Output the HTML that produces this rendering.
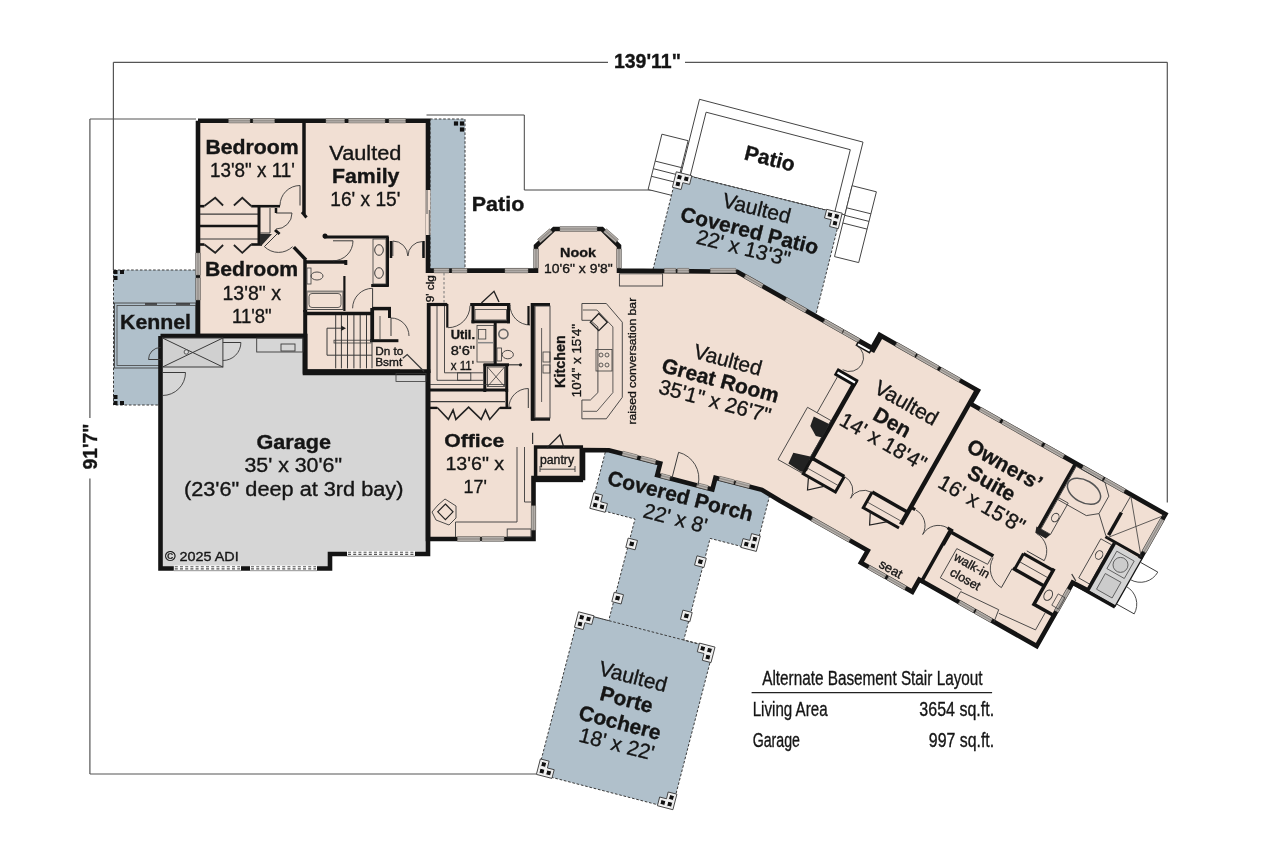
<!DOCTYPE html><html><head><meta charset="utf-8"><style>html,body{margin:0;padding:0;background:#fff;overflow:hidden}svg{display:block;will-change:transform}text{font-family:"Liberation Sans",sans-serif;fill:#151515;stroke:#151515;stroke-width:0.35px}</style></head><body>
<svg width="1280" height="853" viewBox="0 0 1280 853">
<rect width="1280" height="853" fill="#fff"/>
<line x1="113.4" y1="62.3" x2="608.0" y2="62.3" stroke="#555" stroke-width="1.2" />
<line x1="685.0" y1="62.3" x2="1167.3" y2="62.3" stroke="#555" stroke-width="1.2" />
<line x1="113.4" y1="62.3" x2="113.4" y2="270.0" stroke="#555" stroke-width="1.2" />
<line x1="1167.3" y1="62.3" x2="1167.3" y2="502.5" stroke="#555" stroke-width="1.2" />
<line x1="89.9" y1="119.0" x2="89.9" y2="418.0" stroke="#555" stroke-width="1.2" />
<line x1="89.9" y1="478.5" x2="89.9" y2="774.0" stroke="#555" stroke-width="1.2" />
<line x1="89.9" y1="119.0" x2="196.0" y2="119.0" stroke="#555" stroke-width="1.2" />
<line x1="89.9" y1="774.0" x2="536.0" y2="774.0" stroke="#555" stroke-width="1.2" />
<polyline points="426.5,115.0 524.3,115.0 524.3,190.0 663.0,190.0" fill="none" stroke="#444" stroke-width="1" />
<polygon points="699.5,99.3 863.0,142.1 844.9,214.9 680.9,174.0" fill="#fff" stroke="#444" stroke-width="1" />
<polygon points="706.1,112.2 850.3,149.7 834.7,212.3 690.1,176.3" fill="none" stroke="#444" stroke-width="1" />
<polygon points="661.9,134.2 688.1,140.7 674.3,196.0 648.1,189.5" fill="#fff" stroke="#444" stroke-width="1" />
<line x1="655.2" y1="161.1" x2="681.4" y2="167.6" stroke="#444" stroke-width="1" />
<line x1="653.3" y1="168.7" x2="679.5" y2="175.3" stroke="#444" stroke-width="1" />
<line x1="651.4" y1="176.3" x2="677.6" y2="182.8" stroke="#444" stroke-width="1" />
<polygon points="852.1,185.7 876.4,191.8 858.7,262.6 834.5,256.6" fill="#fff" stroke="#444" stroke-width="1" />
<line x1="846.6" y1="207.8" x2="870.9" y2="213.8" stroke="#444" stroke-width="1" />
<line x1="844.7" y1="215.3" x2="869.0" y2="221.4" stroke="#444" stroke-width="1" />
<line x1="842.8" y1="223.0" x2="867.1" y2="229.1" stroke="#444" stroke-width="1" />
<polygon points="677.0,173.0 841.0,213.9 815.6,315.8 651.6,274.9" fill="#b0c0cb" stroke="#3a3a3a" stroke-width="1.0" stroke-dasharray="2.6,1.8"/>
<polygon points="430.0,119.0 465.0,119.0 465.0,272.0 430.0,272.0" fill="#b0c0cb" stroke="#3a3a3a" stroke-width="1.0" stroke-dasharray="2.6,1.8"/>
<polygon points="113.5,270.0 198.0,270.0 198.0,405.0 113.5,405.0" fill="#b0c0cb" stroke="#3a3a3a" stroke-width="1.0" stroke-dasharray="2.6,1.8"/>
<polygon points="607.7,442.7 772.3,485.3 755.6,550.1 710.1,538.4 683.8,640.0 713.8,647.8 672.2,808.5 537.6,773.7 579.2,613.0 608.7,620.6 635.0,519.0 591.0,507.6" fill="#b0c0cb" stroke="#3a3a3a" stroke-width="1.0" stroke-dasharray="2.6,1.8"/>
<rect x="114.5" y="303.0" width="81.5" height="65.0" fill="none" stroke="#444" stroke-width="0.9"/>
<rect x="117.0" y="305.5" width="79.0" height="60.0" fill="none" stroke="#444" stroke-width="0.8"/>
<line x1="145.0" y1="304.0" x2="157.0" y2="304.0" stroke="#333" stroke-width="1.6" />
<line x1="176.0" y1="304.0" x2="190.0" y2="304.0" stroke="#333" stroke-width="1.6" />
<polygon points="198.0,120.7 428.0,120.7 428.0,270.6 536.0,270.6 536.0,246.0 554.0,229.0 602.0,229.0 619.0,246.0 619.0,270.6 737.2,271.8 872.1,348.1 879.6,334.9 977.9,390.5 970.4,403.7 1165.4,514.1 1114.5,604.0 1072.6,582.6 1036.7,646.1 919.2,579.6 912.3,591.8 860.9,562.7 867.8,550.6 779.9,500.8 761.9,489.8 715.4,477.8 712.4,489.4 657.2,475.1 660.2,463.5 608.9,450.2 583.0,450.0 583.0,478.0 533.5,478.0 533.5,539.0 428.0,539.0 428.0,373.0 305.0,373.0 305.0,336.0 198.0,336.0" fill="#f1dfd3" stroke="none" stroke-width="1" />
<polygon points="160.5,336.0 305.0,336.0 305.0,371.5 428.0,371.5 428.0,554.0 330.0,554.0 330.0,568.5 160.5,568.5" fill="#d6d6d6" stroke="none" stroke-width="1" />
<polyline points="198.0,120.7 428.0,120.7 428.0,270.6 536.0,270.6 536.0,246.0 554.0,229.0 602.0,229.0 619.0,246.0 619.0,270.6 737.2,271.8 872.1,348.1 879.6,334.9 977.9,390.5 970.4,403.7 1165.4,514.1 1114.5,604.0 1072.6,582.6 1036.7,646.1 919.2,579.6 912.3,591.8 860.9,562.7 867.8,550.6 779.9,500.8 761.9,489.8 715.4,477.8 712.4,489.4 657.2,475.1 660.2,463.5 608.9,450.2 583.0,450.0 583.0,478.0 533.5,478.0 533.5,539.0 428.0,539.0 428.0,373.0 305.0,373.0 305.0,336.0 198.0,336.0 198.0,120.7" fill="none" stroke="#141414" stroke-width="4.6" stroke-linejoin="miter"/>
<polyline points="160.5,336.0 305.0,336.0 305.0,371.5 428.0,371.5 428.0,554.0 330.0,554.0 330.0,568.5 160.5,568.5 160.5,336.0" fill="none" stroke="#141414" stroke-width="4.6" stroke-linejoin="miter"/>
<polygon points="228.7,122.9 250.0,122.9 250.0,118.5 228.7,118.5" fill="#98938e" stroke="#6a6560" stroke-width="0.6" />
<line x1="228.7" y1="119.4" x2="250.0" y2="119.4" stroke="#cfcac5" stroke-width="0.7" />
<line x1="228.7" y1="122.0" x2="250.0" y2="122.0" stroke="#cfcac5" stroke-width="0.7" />
<polygon points="253.0,122.9 274.5,122.9 274.5,118.5 253.0,118.5" fill="#98938e" stroke="#6a6560" stroke-width="0.6" />
<line x1="253.0" y1="119.4" x2="274.5" y2="119.4" stroke="#cfcac5" stroke-width="0.7" />
<line x1="253.0" y1="122.0" x2="274.5" y2="122.0" stroke="#cfcac5" stroke-width="0.7" />
<polygon points="326.0,122.9 344.5,122.9 344.5,118.5 326.0,118.5" fill="#98938e" stroke="#6a6560" stroke-width="0.6" />
<line x1="326.0" y1="119.4" x2="344.5" y2="119.4" stroke="#cfcac5" stroke-width="0.7" />
<line x1="326.0" y1="122.0" x2="344.5" y2="122.0" stroke="#cfcac5" stroke-width="0.7" />
<polygon points="348.6,122.9 385.0,122.9 385.0,118.5 348.6,118.5" fill="#98938e" stroke="#6a6560" stroke-width="0.6" />
<line x1="348.6" y1="119.4" x2="385.0" y2="119.4" stroke="#cfcac5" stroke-width="0.7" />
<line x1="348.6" y1="122.0" x2="385.0" y2="122.0" stroke="#cfcac5" stroke-width="0.7" />
<polygon points="389.0,122.9 405.5,122.9 405.5,118.5 389.0,118.5" fill="#98938e" stroke="#6a6560" stroke-width="0.6" />
<line x1="389.0" y1="119.4" x2="405.5" y2="119.4" stroke="#cfcac5" stroke-width="0.7" />
<line x1="389.0" y1="122.0" x2="405.5" y2="122.0" stroke="#cfcac5" stroke-width="0.7" />
<polygon points="195.8,253.0 195.8,275.0 200.2,275.0 200.2,253.0" fill="#98938e" stroke="#6a6560" stroke-width="0.6" />
<line x1="199.3" y1="253.0" x2="199.3" y2="275.0" stroke="#cfcac5" stroke-width="0.7" />
<line x1="196.7" y1="253.0" x2="196.7" y2="275.0" stroke="#cfcac5" stroke-width="0.7" />
<polygon points="195.8,278.0 195.8,300.0 200.2,300.0 200.2,278.0" fill="#98938e" stroke="#6a6560" stroke-width="0.6" />
<line x1="199.3" y1="278.0" x2="199.3" y2="300.0" stroke="#cfcac5" stroke-width="0.7" />
<line x1="196.7" y1="278.0" x2="196.7" y2="300.0" stroke="#cfcac5" stroke-width="0.7" />
<polyline points="304.0,121.0 304.0,214.0" fill="none" stroke="#141414" stroke-width="3.5" stroke-linecap="butt" stroke-linejoin="miter"/>
<polyline points="302.0,212.0 306.5,217.5" fill="none" stroke="#141414" stroke-width="3" stroke-linecap="butt" stroke-linejoin="miter"/>
<line x1="300.0" y1="205.5" x2="300.0" y2="185.5" stroke="#3a3a3a" stroke-width="1" />
<path d="M300.0,185.5 A20.0,20.0 0 0 0 280.0,205.5" fill="none" stroke="#3a3a3a" stroke-width="0.9"/>
<polyline points="200.0,206.2 204.4,206.2" fill="none" stroke="#141414" stroke-width="2.6" stroke-linecap="butt" stroke-linejoin="miter"/>
<polyline points="251.2,206.2 280.0,206.2" fill="none" stroke="#141414" stroke-width="2.6" stroke-linecap="butt" stroke-linejoin="miter"/>
<polyline points="204.4,206.0 215.2,197.8 223.1,205.5" fill="none" stroke="#222" stroke-width="1.8" />
<polyline points="233.9,205.5 242.3,197.8 251.2,206.0" fill="none" stroke="#222" stroke-width="1.8" />
<line x1="200.0" y1="214.2" x2="258.0" y2="214.2" stroke="#3a3a3a" stroke-width="1.2" />
<polyline points="200.0,226.0 258.0,226.0" fill="none" stroke="#141414" stroke-width="2.6" stroke-linecap="butt" stroke-linejoin="miter"/>
<line x1="200.0" y1="239.0" x2="258.0" y2="239.0" stroke="#3a3a3a" stroke-width="1.2" />
<polyline points="200.0,244.5 204.4,244.5" fill="none" stroke="#141414" stroke-width="2.6" stroke-linecap="butt" stroke-linejoin="miter"/>
<polyline points="251.2,244.5 262.0,244.5" fill="none" stroke="#141414" stroke-width="2.6" stroke-linecap="butt" stroke-linejoin="miter"/>
<polyline points="204.4,244.5 215.2,252.8 223.1,245.0" fill="none" stroke="#222" stroke-width="1.8" />
<polyline points="233.9,245.0 242.3,252.8 251.2,244.5" fill="none" stroke="#222" stroke-width="1.8" />
<polyline points="259.0,206.0 259.0,245.0" fill="none" stroke="#141414" stroke-width="3" stroke-linecap="butt" stroke-linejoin="miter"/>
<line x1="270.0" y1="208.0" x2="270.0" y2="233.0" stroke="#3a3a3a" stroke-width="1" />
<line x1="260.0" y1="233.0" x2="270.0" y2="233.0" stroke="#3a3a3a" stroke-width="1" />
<polygon points="260.0,234.0 272.0,234.0 262.0,245.0 260.0,245.0" fill="#2a2a2a" stroke="none" stroke-width="1" />
<line x1="276.0" y1="213.0" x2="292.0" y2="213.0" stroke="#3a3a3a" stroke-width="1" />
<path d="M292.0,213.0 A16.0,16.0 0 0 1 276.0,229.0" fill="none" stroke="#3a3a3a" stroke-width="0.9"/>
<polyline points="276.0,208.0 276.0,213.0" fill="none" stroke="#141414" stroke-width="2.5" stroke-linecap="butt" stroke-linejoin="miter"/>
<polyline points="275.0,230.0 279.5,234.0" fill="none" stroke="#141414" stroke-width="3" stroke-linecap="butt" stroke-linejoin="miter"/>
<line x1="278.5" y1="232.5" x2="264.4" y2="246.6" stroke="#3a3a3a" stroke-width="1" />
<path d="M264.4,246.6 A20.0,20.0 0 0 0 292.6,246.6" fill="none" stroke="#3a3a3a" stroke-width="0.9"/>
<polyline points="293.8,247.1 306.0,260.0" fill="none" stroke="#141414" stroke-width="3.5" stroke-linecap="butt" stroke-linejoin="miter"/>
<polyline points="306.0,262.0 345.8,262.0" fill="none" stroke="#141414" stroke-width="3.5" stroke-linecap="butt" stroke-linejoin="miter"/>
<polyline points="345.8,260.0 345.8,265.0" fill="none" stroke="#141414" stroke-width="3" stroke-linecap="butt" stroke-linejoin="miter"/>
<polyline points="305.0,260.0 305.0,312.0" fill="none" stroke="#141414" stroke-width="3.5" stroke-linecap="butt" stroke-linejoin="miter"/>
<rect x="307.0" y="268.0" width="4.0" height="16.0" fill="#f5e8e0" stroke="#3a3a3a" stroke-width="0.8"/>
<ellipse cx="317" cy="276" rx="6" ry="4" fill="none" stroke="#3a3a3a" stroke-width="0.9"/>
<rect x="307.0" y="291.5" width="36.0" height="18.0" fill="none" stroke="#3a3a3a" stroke-width="0.9"/>
<rect x="309" y="293.5" width="32" height="14" rx="3" fill="none" stroke="#3a3a3a" stroke-width="0.8"/>
<line x1="307.0" y1="291.5" x2="343.0" y2="291.5" stroke="#8a8580" stroke-width="2" />
<polyline points="344.4,276.0 344.4,311.0" fill="none" stroke="#141414" stroke-width="2.2" stroke-linecap="butt" stroke-linejoin="miter"/>
<polyline points="324.0,237.0 388.7,237.0" fill="none" stroke="#141414" stroke-width="3" stroke-linecap="butt" stroke-linejoin="miter"/>
<circle cx="325" cy="236" r="2.5" fill="#111"/>
<polyline points="387.5,237.0 387.5,286.5" fill="none" stroke="#141414" stroke-width="3" stroke-linecap="butt" stroke-linejoin="miter"/>
<polyline points="371.2,285.5 388.7,285.5" fill="none" stroke="#141414" stroke-width="3" stroke-linecap="butt" stroke-linejoin="miter"/>
<rect x="373.0" y="239.0" width="13.0" height="45.0" fill="none" stroke="#3a3a3a" stroke-width="0.8"/>
<ellipse cx="379" cy="250" rx="4.3" ry="5.3" fill="none" stroke="#3a3a3a" stroke-width="1"/>
<ellipse cx="379" cy="273" rx="4.3" ry="5.3" fill="none" stroke="#3a3a3a" stroke-width="1"/>
<line x1="333.0" y1="240.8" x2="353.0" y2="240.8" stroke="#3a3a3a" stroke-width="1" />
<path d="M353.0,240.8 A20.0,20.0 0 0 1 333.0,260.8" fill="none" stroke="#3a3a3a" stroke-width="0.9"/>
<line x1="372.6" y1="308.3" x2="372.6" y2="288.3" stroke="#3a3a3a" stroke-width="1" />
<path d="M372.6,288.3 A20.0,20.0 0 0 0 352.6,308.3" fill="none" stroke="#3a3a3a" stroke-width="0.9"/>
<polyline points="391.0,241.0 391.0,258.0" fill="none" stroke="#141414" stroke-width="2.5" stroke-linecap="butt" stroke-linejoin="miter"/>
<polyline points="423.5,241.0 423.5,258.0" fill="none" stroke="#141414" stroke-width="2.5" stroke-linecap="butt" stroke-linejoin="miter"/>
<line x1="392.8" y1="256.0" x2="392.8" y2="241.0" stroke="#3a3a3a" stroke-width="1" />
<path d="M392.8,241.0 A15.0,15.0 0 0 1 407.8,256.0" fill="none" stroke="#3a3a3a" stroke-width="0.9"/>
<line x1="422.5" y1="256.0" x2="422.5" y2="241.5" stroke="#3a3a3a" stroke-width="1" />
<path d="M422.5,241.5 A14.5,14.5 0 0 0 408.0,256.0" fill="none" stroke="#3a3a3a" stroke-width="0.9"/>
<polyline points="305.0,313.5 372.5,313.5" fill="none" stroke="#141414" stroke-width="3.5" stroke-linecap="butt" stroke-linejoin="miter"/>
<polyline points="305.2,310.0 305.2,373.0" fill="none" stroke="#141414" stroke-width="4" stroke-linecap="butt" stroke-linejoin="miter"/>
<polyline points="372.2,308.6 391.0,308.6" fill="none" stroke="#141414" stroke-width="3.5" stroke-linecap="butt" stroke-linejoin="miter"/>
<polyline points="372.2,308.0 372.2,341.4" fill="none" stroke="#141414" stroke-width="3.8" stroke-linecap="butt" stroke-linejoin="miter"/>
<polyline points="370.0,340.7 398.4,340.7" fill="none" stroke="#141414" stroke-width="3" stroke-linecap="butt" stroke-linejoin="miter"/>
<polyline points="389.5,308.0 389.5,318.0" fill="none" stroke="#141414" stroke-width="3" stroke-linecap="butt" stroke-linejoin="miter"/>
<line x1="391.0" y1="336.0" x2="391.0" y2="318.0" stroke="#3a3a3a" stroke-width="1" />
<path d="M391.0,318.0 A18.0,18.0 0 0 1 409.0,336.0" fill="none" stroke="#3a3a3a" stroke-width="0.9"/>
<line x1="380.0" y1="316.0" x2="380.0" y2="339.0" stroke="#3a3a3a" stroke-width="0.8" />
<line x1="335.7" y1="315.0" x2="335.7" y2="368.4" stroke="#3a3a3a" stroke-width="1" />
<line x1="341.4" y1="315.0" x2="341.4" y2="368.4" stroke="#3a3a3a" stroke-width="1" />
<line x1="347.5" y1="315.0" x2="347.5" y2="368.4" stroke="#3a3a3a" stroke-width="1" />
<line x1="353.9" y1="315.0" x2="353.9" y2="368.4" stroke="#3a3a3a" stroke-width="1" />
<line x1="360.2" y1="315.0" x2="360.2" y2="368.4" stroke="#3a3a3a" stroke-width="1" />
<line x1="366.5" y1="315.0" x2="366.5" y2="368.4" stroke="#3a3a3a" stroke-width="1" />
<line x1="372.0" y1="342.0" x2="372.0" y2="368.4" stroke="#3a3a3a" stroke-width="1" />
<rect x="334.0" y="340.2" width="37.0" height="2.8" fill="none" stroke="#3a3a3a" stroke-width="0.8"/>
<polyline points="344.0,328.2 327.0,328.2 327.0,355.2 372.0,355.2" fill="none" stroke="#3a3a3a" stroke-width="1" />
<path d="M341,325.5 L346,328.2 L341,331 Z" fill="#222"/>
<polyline points="305.0,371.5 400.0,371.5" fill="none" stroke="#141414" stroke-width="3.8" stroke-linecap="butt" stroke-linejoin="miter"/>
<rect x="396.0" y="373.5" width="30.0" height="8.0" fill="none" stroke="#3a3a3a" stroke-width="0.8"/>
<polyline points="402.8,358.3 407.2,354.6 424.1,371.5" fill="none" stroke="#3a3a3a" stroke-width="1.3" />
<rect x="162.5" y="338.0" width="60.4" height="29.0" fill="#d0d0d0" stroke="#3a3a3a" stroke-width="1"/>
<line x1="162.5" y1="338.0" x2="222.9" y2="367.0" stroke="#3a3a3a" stroke-width="1" />
<line x1="162.5" y1="367.0" x2="222.9" y2="338.0" stroke="#3a3a3a" stroke-width="1" />
<circle cx="186.3" cy="352" r="2.2" fill="#ddd" stroke="#3a3a3a" stroke-width="0.8"/>
<line x1="222.9" y1="342.5" x2="240.9" y2="342.5" stroke="#3a3a3a" stroke-width="1" />
<path d="M240.9,342.5 A18.0,18.0 0 0 1 222.9,360.5" fill="none" stroke="#3a3a3a" stroke-width="0.9"/>
<line x1="162.5" y1="372.5" x2="185.5" y2="372.5" stroke="#3a3a3a" stroke-width="1" />
<path d="M185.5,372.5 A23.0,23.0 0 0 1 162.5,395.5" fill="none" stroke="#3a3a3a" stroke-width="0.9"/>
<rect x="256.7" y="338.0" width="46.3" height="14.0" fill="none" stroke="#3a3a3a" stroke-width="0.9"/>
<rect x="281.0" y="344.0" width="14.0" height="7.0" fill="none" stroke="#3a3a3a" stroke-width="0.9"/>
<line x1="160.5" y1="359.5" x2="148.5" y2="359.5" stroke="#3a3a3a" stroke-width="1" />
<path d="M148.5,359.5 A12.0,12.0 0 0 1 160.5,347.5" fill="none" stroke="#3a3a3a" stroke-width="0.9"/>
<rect x="173.8" y="565.5" width="67.2" height="5.5" fill="#fbfbfb" stroke="none" stroke-width="0"/>
<line x1="174.8" y1="566.7" x2="240.0" y2="566.7" stroke="#555" stroke-width="1.1" stroke-dasharray="3,2.2"/>
<line x1="174.8" y1="568.9" x2="240.0" y2="568.9" stroke="#555" stroke-width="1.1" stroke-dasharray="3,2.2"/>
<line x1="173.8" y1="570.7" x2="241.0" y2="570.7" stroke="#888" stroke-width="0.9" />
<rect x="250.0" y="565.5" width="67.0" height="5.5" fill="#fbfbfb" stroke="none" stroke-width="0"/>
<line x1="251.0" y1="566.7" x2="316.0" y2="566.7" stroke="#555" stroke-width="1.1" stroke-dasharray="3,2.2"/>
<line x1="251.0" y1="568.9" x2="316.0" y2="568.9" stroke="#555" stroke-width="1.1" stroke-dasharray="3,2.2"/>
<line x1="250.0" y1="570.7" x2="317.0" y2="570.7" stroke="#888" stroke-width="0.9" />
<rect x="347.0" y="551.0" width="68.0" height="5.5" fill="#fbfbfb" stroke="none" stroke-width="0"/>
<line x1="348.0" y1="552.2" x2="414.0" y2="552.2" stroke="#555" stroke-width="1.1" stroke-dasharray="3,2.2"/>
<line x1="348.0" y1="554.4" x2="414.0" y2="554.4" stroke="#555" stroke-width="1.1" stroke-dasharray="3,2.2"/>
<line x1="347.0" y1="556.2" x2="415.0" y2="556.2" stroke="#888" stroke-width="0.9" />
<rect x="113.5" y="270.0" width="4.0" height="4.0" fill="#111" stroke="none" stroke-width="0"/>
<rect x="120.0" y="270.0" width="4.0" height="4.0" fill="#111" stroke="none" stroke-width="0"/>
<rect x="113.5" y="276.0" width="4.0" height="4.0" fill="#111" stroke="none" stroke-width="0"/>
<rect x="113.5" y="395.0" width="4.0" height="4.0" fill="#111" stroke="none" stroke-width="0"/>
<rect x="113.5" y="401.0" width="4.0" height="4.0" fill="#111" stroke="none" stroke-width="0"/>
<rect x="120.0" y="401.0" width="4.0" height="4.0" fill="#111" stroke="none" stroke-width="0"/>
<polyline points="428.7,303.0 428.7,373.0" fill="none" stroke="#141414" stroke-width="3.8" stroke-linecap="butt" stroke-linejoin="miter"/>
<line x1="444.0" y1="273.0" x2="444.0" y2="303.0" stroke="#777" stroke-width="1" stroke-dasharray="2.5,2"/>
<polyline points="428.0,304.5 447.3,304.5" fill="none" stroke="#141414" stroke-width="3.2" stroke-linecap="butt" stroke-linejoin="miter"/>
<polyline points="447.3,304.0 447.3,327.6" fill="none" stroke="#141414" stroke-width="2.2" stroke-linecap="butt" stroke-linejoin="miter"/>
<path d="M448.0,327.7 A22.0,22.0 0 0 0 470.0,305.7" fill="none" stroke="#3a3a3a" stroke-width="0.9"/>
<polyline points="470.2,304.5 510.3,304.5" fill="none" stroke="#141414" stroke-width="3.2" stroke-linecap="butt" stroke-linejoin="miter"/>
<polyline points="473.0,304.0 473.0,323.3" fill="none" stroke="#141414" stroke-width="3" stroke-linecap="butt" stroke-linejoin="miter"/>
<polyline points="508.5,304.0 508.5,323.3" fill="none" stroke="#141414" stroke-width="3" stroke-linecap="butt" stroke-linejoin="miter"/>
<polyline points="471.5,321.8 510.0,321.8" fill="none" stroke="#141414" stroke-width="3" stroke-linecap="butt" stroke-linejoin="miter"/>
<rect x="475.0" y="309.5" width="31.5" height="10.5" fill="none" stroke="#3a3a3a" stroke-width="0.8"/>
<polyline points="481.4,303.0 494.0,291.3 499.0,302.0" fill="none" stroke="#222" stroke-width="1.4" />
<path d="M510.0,305.0 A20.0,20.0 0 0 0 530.0,325.0" fill="none" stroke="#3a3a3a" stroke-width="0.9"/>
<polyline points="528.5,306.0 528.5,325.0" fill="none" stroke="#141414" stroke-width="2.2" stroke-linecap="butt" stroke-linejoin="miter"/>
<polyline points="495.2,323.0 495.2,366.0" fill="none" stroke="#141414" stroke-width="3" stroke-linecap="butt" stroke-linejoin="miter"/>
<rect x="477.0" y="325.5" width="17.0" height="36.5" fill="none" stroke="#3a3a3a" stroke-width="0.8"/>
<rect x="478.5" y="329.5" width="7.3" height="9.5" fill="none" stroke="#3a3a3a" stroke-width="0.8"/>
<line x1="478.0" y1="342.7" x2="493.0" y2="342.7" stroke="#888" stroke-width="1.5" />
<circle cx="503.4" cy="334" r="4.6" fill="none" stroke="#666" stroke-width="1.6"/>
<rect x="497.0" y="348.0" width="4.5" height="13.0" fill="none" stroke="#3a3a3a" stroke-width="0.8"/>
<ellipse cx="507.8" cy="354.6" rx="5.6" ry="4.2" fill="none" stroke="#3a3a3a" stroke-width="0.9"/>
<polyline points="483.5,364.8 509.0,364.8" fill="none" stroke="#141414" stroke-width="3" stroke-linecap="butt" stroke-linejoin="miter"/>
<polyline points="484.8,364.0 484.8,392.0" fill="none" stroke="#141414" stroke-width="3" stroke-linecap="butt" stroke-linejoin="miter"/>
<polyline points="506.7,364.0 506.7,392.0" fill="none" stroke="#141414" stroke-width="3" stroke-linecap="butt" stroke-linejoin="miter"/>
<rect x="487.5" y="367.0" width="17.0" height="19.5" fill="none" stroke="#3a3a3a" stroke-width="0.8"/>
<line x1="487.5" y1="367.0" x2="504.5" y2="386.5" stroke="#3a3a3a" stroke-width="0.8" />
<line x1="487.5" y1="386.5" x2="504.5" y2="367.0" stroke="#3a3a3a" stroke-width="0.8" />
<line x1="509.0" y1="364.8" x2="520.3" y2="364.8" stroke="#3a3a3a" stroke-width="1.2" />
<circle cx="520.5" cy="364.8" r="1.6" fill="#222"/>
<polyline points="437.0,306.0 437.0,380.3 483.0,380.3" fill="none" stroke="#3a3a3a" stroke-width="0.9" />
<polyline points="444.5,306.0 444.5,372.8 483.0,372.8" fill="none" stroke="#3a3a3a" stroke-width="0.9" />
<rect x="457.6" y="372.8" width="13.2" height="7.5" fill="none" stroke="#3a3a3a" stroke-width="0.9"/>
<line x1="430.0" y1="384.5" x2="506.0" y2="384.5" stroke="#3a3a3a" stroke-width="0.8" />
<polyline points="430.0,390.0 508.0,390.0" fill="none" stroke="#141414" stroke-width="2.8" stroke-linecap="butt" stroke-linejoin="miter"/>
<polyline points="506.8,389.0 506.8,408.6" fill="none" stroke="#141414" stroke-width="2.6" stroke-linecap="butt" stroke-linejoin="miter"/>
<line x1="430.0" y1="401.6" x2="505.0" y2="401.6" stroke="#3a3a3a" stroke-width="1.1" />
<polyline points="430.0,407.9 437.2,407.9" fill="none" stroke="#141414" stroke-width="2.4" stroke-linecap="butt" stroke-linejoin="miter"/>
<polyline points="500.0,407.9 511.3,407.9" fill="none" stroke="#141414" stroke-width="2.4" stroke-linecap="butt" stroke-linejoin="miter"/>
<polyline points="437.2,407.5 448.4,419.4 453.1,410.0 455.9,419.4 468.6,407.2 481.2,419.4 485.5,410.0 489.7,419.4 500.0,407.5" fill="none" stroke="#222" stroke-width="1.6" />
<line x1="528.3" y1="408.0" x2="528.3" y2="388.5" stroke="#3a3a3a" stroke-width="1" />
<path d="M528.3,388.5 A19.5,19.5 0 0 0 508.8,408.0" fill="none" stroke="#3a3a3a" stroke-width="0.9"/>
<polyline points="532.7,303.0 532.7,420.5" fill="none" stroke="#141414" stroke-width="4" stroke-linecap="butt" stroke-linejoin="miter"/>
<polyline points="531.0,304.5 550.0,304.5" fill="none" stroke="#141414" stroke-width="3" stroke-linecap="butt" stroke-linejoin="miter"/>
<polyline points="531.0,419.2 550.0,419.2" fill="none" stroke="#141414" stroke-width="3" stroke-linecap="butt" stroke-linejoin="miter"/>
<rect x="535.0" y="306.0" width="15.0" height="112.0" fill="none" stroke="#3a3a3a" stroke-width="0.9"/>
<line x1="541.6" y1="328.0" x2="541.6" y2="402.0" stroke="#3a3a3a" stroke-width="0.8" />
<rect x="543.0" y="352.0" width="7.0" height="10.0" fill="none" stroke="#3a3a3a" stroke-width="0.8"/>
<rect x="543.0" y="365.0" width="7.0" height="8.0" fill="none" stroke="#3a3a3a" stroke-width="0.8"/>
<polygon points="581.9,303.5 606.3,303.5 622.3,322.2 622.3,397.3 606.3,418.8 581.9,418.8 581.9,400.0 590.4,400.0 597.9,392.6 597.9,326.9 590.4,320.3 581.9,320.3" fill="none" stroke="#3a3a3a" stroke-width="0.9" />
<polyline points="582.9,310.0 596.9,310.0 612.9,326.9 612.9,392.6 596.9,411.3 582.9,411.3" fill="none" stroke="#3a3a3a" stroke-width="0.8" />
<polygon points="598.8,313.5 607.3,322.2 598.8,330.7 590.3,322.2" fill="none" stroke="#222" stroke-width="1.3" />
<rect x="596.0" y="349.4" width="16.0" height="21.6" fill="none" stroke="#3a3a3a" stroke-width="0.8"/>
<circle cx="601.0" cy="355.0" r="2" fill="none" stroke="#3a3a3a" stroke-width="0.8"/>
<circle cx="607.0" cy="355.0" r="2" fill="none" stroke="#3a3a3a" stroke-width="0.8"/>
<circle cx="601.0" cy="365.0" r="2" fill="none" stroke="#3a3a3a" stroke-width="0.8"/>
<circle cx="607.0" cy="365.0" r="2" fill="none" stroke="#3a3a3a" stroke-width="0.8"/>
<rect x="619.4" y="273.8" width="43.2" height="12.2" fill="none" stroke="#3a3a3a" stroke-width="0.9"/>
<polyline points="517.0,447.0 517.0,522.0 455.5,522.0 455.5,537.0" fill="none" stroke="#3a3a3a" stroke-width="0.9" />
<polyline points="524.5,447.0 524.5,502.0 531.0,502.0" fill="none" stroke="#3a3a3a" stroke-width="0.9" />
<rect x="507.2" y="529.0" width="23.8" height="8.0" fill="none" stroke="#3a3a3a" stroke-width="0.9"/>
<polygon points="438.0,505.0 445.0,499.0 456.0,506.0 456.0,518.0 449.0,525.0 436.0,520.0 432.0,512.0" fill="none" stroke="#3a3a3a" stroke-width="0.9" />
<polygon points="445.4,504.0 453.0,511.8 445.4,519.6 437.8,511.8" fill="none" stroke="#222" stroke-width="1.2" />
<line x1="532.6" y1="432.7" x2="532.6" y2="444.0" stroke="#3a3a3a" stroke-width="1.2" />
<rect x="535.6" y="447.0" width="45.7" height="33.4" fill="none" stroke="#141414" stroke-width="3.5"/>
<polyline points="546.8,448.0 560.0,434.8 564.0,448.0" fill="none" stroke="#222" stroke-width="1.3" />
<line x1="540.0" y1="469.2" x2="575.0" y2="469.2" stroke="#3a3a3a" stroke-width="0.9" />
<line x1="540.0" y1="466.0" x2="540.0" y2="472.0" stroke="#3a3a3a" stroke-width="0.9" />
<line x1="575.0" y1="466.0" x2="575.0" y2="472.0" stroke="#3a3a3a" stroke-width="0.9" />
<polygon points="744.0,278.0 761.4,287.9 763.4,284.2 746.0,274.4" fill="#98938e" stroke="#6a6560" stroke-width="0.6" />
<line x1="745.6" y1="275.1" x2="763.0" y2="285.0" stroke="#cfcac5" stroke-width="0.7" />
<line x1="744.4" y1="277.3" x2="761.8" y2="287.2" stroke="#cfcac5" stroke-width="0.7" />
<polygon points="784.9,301.2 804.9,312.5 807.0,308.9 786.9,297.5" fill="#98938e" stroke="#6a6560" stroke-width="0.6" />
<line x1="786.5" y1="298.3" x2="806.5" y2="309.6" stroke="#cfcac5" stroke-width="0.7" />
<line x1="785.3" y1="300.5" x2="805.3" y2="311.8" stroke="#cfcac5" stroke-width="0.7" />
<polygon points="823.2,322.8 841.4,333.2 843.5,329.5 825.2,319.2" fill="#98938e" stroke="#6a6560" stroke-width="0.6" />
<line x1="824.8" y1="319.9" x2="843.1" y2="330.3" stroke="#cfcac5" stroke-width="0.7" />
<line x1="823.6" y1="322.1" x2="841.9" y2="332.5" stroke="#cfcac5" stroke-width="0.7" />
<polygon points="842.3,333.7 858.0,342.5 860.0,338.9 844.4,330.0" fill="#98938e" stroke="#6a6560" stroke-width="0.6" />
<line x1="844.0" y1="330.8" x2="859.6" y2="339.6" stroke="#cfcac5" stroke-width="0.7" />
<line x1="842.7" y1="333.0" x2="858.4" y2="341.8" stroke="#cfcac5" stroke-width="0.7" />
<polygon points="895.1,346.1 914.2,356.9 916.3,353.2 897.1,342.4" fill="#98938e" stroke="#6a6560" stroke-width="0.6" />
<line x1="896.7" y1="343.1" x2="915.9" y2="354.0" stroke="#cfcac5" stroke-width="0.7" />
<line x1="895.5" y1="345.3" x2="914.6" y2="356.2" stroke="#cfcac5" stroke-width="0.7" />
<polygon points="915.9,357.9 936.8,369.7 938.9,366.0 918.0,354.2" fill="#98938e" stroke="#6a6560" stroke-width="0.6" />
<line x1="917.6" y1="355.0" x2="938.5" y2="366.8" stroke="#cfcac5" stroke-width="0.7" />
<line x1="916.4" y1="357.1" x2="937.2" y2="369.0" stroke="#cfcac5" stroke-width="0.7" />
<polygon points="939.4,371.2 958.6,382.0 960.7,378.4 941.5,367.5" fill="#98938e" stroke="#6a6560" stroke-width="0.6" />
<line x1="941.1" y1="368.2" x2="960.2" y2="379.1" stroke="#cfcac5" stroke-width="0.7" />
<line x1="939.9" y1="370.4" x2="959.0" y2="381.3" stroke="#cfcac5" stroke-width="0.7" />
<polygon points="979.0,411.0 999.0,422.3 1001.0,418.7 981.0,407.3" fill="#98938e" stroke="#6a6560" stroke-width="0.6" />
<line x1="980.6" y1="408.1" x2="1000.6" y2="419.4" stroke="#cfcac5" stroke-width="0.7" />
<line x1="979.4" y1="410.3" x2="999.4" y2="421.6" stroke="#cfcac5" stroke-width="0.7" />
<polygon points="1001.6,423.8 1040.8,446.0 1042.8,442.3 1003.7,420.1" fill="#98938e" stroke="#6a6560" stroke-width="0.6" />
<line x1="1003.2" y1="420.9" x2="1042.4" y2="443.0" stroke="#cfcac5" stroke-width="0.7" />
<line x1="1002.0" y1="423.1" x2="1041.2" y2="445.2" stroke="#cfcac5" stroke-width="0.7" />
<polygon points="1043.4,447.4 1062.5,458.3 1064.6,454.6 1045.4,443.8" fill="#98938e" stroke="#6a6560" stroke-width="0.6" />
<line x1="1045.0" y1="444.5" x2="1064.2" y2="455.3" stroke="#cfcac5" stroke-width="0.7" />
<line x1="1043.8" y1="446.7" x2="1062.9" y2="457.5" stroke="#cfcac5" stroke-width="0.7" />
<polygon points="1081.7,469.1 1101.7,480.4 1103.7,476.8 1083.7,465.4" fill="#98938e" stroke="#6a6560" stroke-width="0.6" />
<line x1="1083.3" y1="466.2" x2="1103.3" y2="477.5" stroke="#cfcac5" stroke-width="0.7" />
<line x1="1082.1" y1="468.4" x2="1102.1" y2="479.7" stroke="#cfcac5" stroke-width="0.7" />
<polygon points="1103.4,481.4 1123.4,492.7 1125.5,489.1 1105.5,477.8" fill="#98938e" stroke="#6a6560" stroke-width="0.6" />
<line x1="1105.1" y1="478.5" x2="1125.1" y2="489.8" stroke="#cfcac5" stroke-width="0.7" />
<line x1="1103.8" y1="480.7" x2="1123.9" y2="492.0" stroke="#cfcac5" stroke-width="0.7" />
<polygon points="811.1,520.9 848.5,542.0 850.6,538.4 813.2,517.2" fill="#98938e" stroke="#6a6560" stroke-width="0.6" />
<line x1="812.7" y1="518.0" x2="850.2" y2="539.1" stroke="#cfcac5" stroke-width="0.7" />
<line x1="811.5" y1="520.1" x2="848.9" y2="541.3" stroke="#cfcac5" stroke-width="0.7" />
<polygon points="958.2,604.1 973.0,612.5 975.0,608.8 960.2,600.4" fill="#98938e" stroke="#6a6560" stroke-width="0.6" />
<line x1="959.8" y1="601.2" x2="974.6" y2="609.5" stroke="#cfcac5" stroke-width="0.7" />
<line x1="958.6" y1="603.4" x2="973.4" y2="611.7" stroke="#cfcac5" stroke-width="0.7" />
<polygon points="974.7,613.5 990.4,622.3 992.4,618.7 976.8,609.8" fill="#98938e" stroke="#6a6560" stroke-width="0.6" />
<line x1="976.4" y1="610.5" x2="992.0" y2="619.4" stroke="#cfcac5" stroke-width="0.7" />
<line x1="975.1" y1="612.7" x2="990.8" y2="621.6" stroke="#cfcac5" stroke-width="0.7" />
<polygon points="867.7,569.0 884.3,578.4 886.3,574.7 869.8,565.4" fill="#98938e" stroke="#6a6560" stroke-width="0.6" />
<line x1="869.4" y1="566.1" x2="885.9" y2="575.4" stroke="#cfcac5" stroke-width="0.7" />
<line x1="868.1" y1="568.3" x2="884.7" y2="577.6" stroke="#cfcac5" stroke-width="0.7" />
<polygon points="886.9,579.8 904.3,589.7 906.4,586.0 888.9,576.2" fill="#98938e" stroke="#6a6560" stroke-width="0.6" />
<line x1="888.5" y1="576.9" x2="905.9" y2="586.8" stroke="#cfcac5" stroke-width="0.7" />
<line x1="887.3" y1="579.1" x2="904.7" y2="589.0" stroke="#cfcac5" stroke-width="0.7" />
<polygon points="1066.9,588.5 1054.5,610.2 1058.2,612.3 1070.5,590.6" fill="#98938e" stroke="#6a6560" stroke-width="0.6" />
<line x1="1069.8" y1="590.1" x2="1057.5" y2="611.9" stroke="#cfcac5" stroke-width="0.7" />
<line x1="1067.6" y1="588.9" x2="1055.3" y2="610.7" stroke="#cfcac5" stroke-width="0.7" />
<polygon points="1160.4,518.5 1142.2,550.7 1145.9,552.8 1164.1,520.6" fill="#98938e" stroke="#6a6560" stroke-width="0.6" />
<line x1="1163.4" y1="520.2" x2="1145.2" y2="552.4" stroke="#cfcac5" stroke-width="0.7" />
<line x1="1161.2" y1="518.9" x2="1143.0" y2="551.1" stroke="#cfcac5" stroke-width="0.7" />
<polyline points="856.4,379.8 811.1,459.9" fill="none" stroke="#141414" stroke-width="4.5" stroke-linecap="butt" stroke-linejoin="miter"/>
<polyline points="810.4,457.2 844.3,476.4" fill="none" stroke="#141414" stroke-width="3.5" stroke-linecap="butt" stroke-linejoin="miter"/>
<polyline points="872.2,492.1 908.7,512.8" fill="none" stroke="#141414" stroke-width="3.5" stroke-linecap="butt" stroke-linejoin="miter"/>
<polyline points="977.8,388.7 901.0,524.5" fill="none" stroke="#141414" stroke-width="4.5" stroke-linecap="butt" stroke-linejoin="miter"/>
<polyline points="881.5,335.4 872.2,352.0" fill="none" stroke="#141414" stroke-width="4.5" stroke-linecap="butt" stroke-linejoin="miter"/>
<polygon points="858.1,342.3 871.2,349.7 869.5,352.7 856.4,345.3" fill="#fff" stroke="#141414" stroke-width="1.5" />
<path d="M856.4,345.3 A14.0,14.0 0 0 1 861.7,364.4" fill="none" stroke="#3a3a3a" stroke-width="0.9"/>
<path d="M842.6,369.7 A14.0,14.0 0 0 0 861.7,364.4" fill="none" stroke="#3a3a3a" stroke-width="0.9"/>
<polygon points="837.8,368.1 858.7,379.9 854.7,386.9 833.8,375.1" fill="#111" stroke="none" stroke-width="0" />
<polygon points="838.1,371.5 855.5,381.4 854.4,383.5 837.0,373.6" fill="#fff" stroke="none" stroke-width="0" />
<polyline points="837.8,376.2 817.1,412.7" fill="none" stroke="#3a3a3a" stroke-width="0.9" />
<polygon points="807.5,407.3 831.0,420.6 801.5,472.8 778.0,459.5" fill="none" stroke="#3a3a3a" stroke-width="0.9" />
<polygon points="813.8,416.6 829.1,424.1 822.2,437.4 815.8,436.1 810.3,426.1" fill="#222" stroke="none" stroke-width="0" />
<polygon points="793.3,452.8 810.3,456.4 807.4,470.4 800.9,471.8 788.4,463.5" fill="#222" stroke="none" stroke-width="0" />
<polyline points="812.1,458.1 803.2,473.8 835.4,492.0 844.3,476.4" fill="none" stroke="#141414" stroke-width="3" stroke-linecap="butt" stroke-linejoin="miter"/>
<polyline points="808.5,476.8 807.5,490.0 825.0,486.1" fill="none" stroke="#222" stroke-width="1.2" />
<line x1="807.6" y1="468.2" x2="838.0" y2="485.4" stroke="#3a3a3a" stroke-width="0.8" />
<polyline points="872.2,492.1 863.3,507.8 899.0,528.0" fill="none" stroke="#141414" stroke-width="3" stroke-linecap="butt" stroke-linejoin="miter"/>
<polyline points="870.3,511.7 869.6,525.1 887.7,521.6" fill="none" stroke="#222" stroke-width="1.2" />
<line x1="867.6" y1="502.2" x2="901.6" y2="521.4" stroke="#3a3a3a" stroke-width="0.8" />
<path d="M844.7,476.6 A16.0,16.0 0 0 1 850.8,498.4" fill="none" stroke="#3a3a3a" stroke-width="0.9"/>
<path d="M871.5,492.3 A15.5,15.5 0 0 0 850.4,498.2" fill="none" stroke="#3a3a3a" stroke-width="0.9"/>
<polyline points="910.8,507.1 915.2,509.6" fill="none" stroke="#141414" stroke-width="3" stroke-linecap="butt" stroke-linejoin="miter"/>
<path d="M915.8,509.9 A18.0,18.0 0 0 1 922.7,534.5" fill="none" stroke="#3a3a3a" stroke-width="0.9"/>
<path d="M947.2,527.7 A18.0,18.0 0 0 0 922.7,534.5" fill="none" stroke="#3a3a3a" stroke-width="0.9"/>
<polyline points="947.4,527.8 951.7,530.2 943.3,545.0" fill="none" stroke="#141414" stroke-width="3" stroke-linecap="butt" stroke-linejoin="miter"/>
<polyline points="949.9,531.5 993.4,556.1" fill="none" stroke="#141414" stroke-width="3.5" stroke-linecap="butt" stroke-linejoin="miter"/>
<polyline points="950.8,529.7 920.8,582.8" fill="none" stroke="#141414" stroke-width="3.5" stroke-linecap="butt" stroke-linejoin="miter"/>
<polyline points="1012.9,568.3 1044.2,586.0" fill="none" stroke="#141414" stroke-width="3.5" stroke-linecap="butt" stroke-linejoin="miter"/>
<line x1="1012.2" y1="568.5" x2="1001.4" y2="587.6" stroke="#3a3a3a" stroke-width="1" />
<path d="M1001.4,587.6 A22.0,22.0 0 0 1 993.1,557.7" fill="none" stroke="#3a3a3a" stroke-width="0.9"/>
<polyline points="991.5,557.4 987.6,564.3 956.8,548.6 940.3,577.8 961.6,589.9" fill="none" stroke="#3a3a3a" stroke-width="0.9" />
<polyline points="955.7,600.3 960.7,591.6 998.7,609.7 994.0,622.0" fill="none" stroke="#3a3a3a" stroke-width="0.9" />
<polyline points="998.9,613.3 1035.5,629.9 1045.1,612.9" fill="none" stroke="#3a3a3a" stroke-width="0.9" />
<polyline points="1023.5,553.6 1053.1,570.4" fill="none" stroke="#141414" stroke-width="3" stroke-linecap="butt" stroke-linejoin="miter"/>
<polyline points="1023.5,553.6 1014.6,569.3" fill="none" stroke="#141414" stroke-width="3" stroke-linecap="butt" stroke-linejoin="miter"/>
<line x1="1019.9" y1="561.9" x2="1047.8" y2="577.7" stroke="#3a3a3a" stroke-width="0.9" />
<polyline points="1054.1,568.6 1033.9,604.3 1055.6,616.6" fill="none" stroke="#141414" stroke-width="3.5" stroke-linecap="butt" stroke-linejoin="miter"/>
<ellipse cx="1048.2" cy="595.2" rx="4" ry="5.5" transform="rotate(29.5 1048.2 595.2)" fill="none" stroke="#3a3a3a" stroke-width="0.9"/>
<polygon points="1058.2,593.9 1065.1,597.8 1058.7,609.2 1051.8,605.2" fill="none" stroke="#3a3a3a" stroke-width="0.8" />
<line x1="1075.8" y1="580.9" x2="1071.7" y2="574.0" stroke="#3a3a3a" stroke-width="1.2" />
<polyline points="1076.1,462.7 1037.7,530.6" fill="none" stroke="#141414" stroke-width="3.5" stroke-linecap="butt" stroke-linejoin="miter"/>
<polygon points="1036.5,526.5 1050.5,534.4 1045.8,538.6 1035.3,532.7" fill="#222" stroke="none" stroke-width="0" />
<polygon points="1058.6,497.7 1068.2,503.1 1050.5,534.4 1040.9,529.0" fill="none" stroke="#3a3a3a" stroke-width="0.9" />
<ellipse cx="1055.3" cy="517.6" rx="3.5" ry="4.5" transform="rotate(29.5 1055.3 517.6)" fill="none" stroke="#3a3a3a" stroke-width="0.9"/>
<polygon points="1076.3,466.3 1105.1,482.6 1108.8,496.2 1099.0,513.6 1086.3,515.6 1057.6,499.4" fill="none" stroke="#3a3a3a" stroke-width="0.9" />
<ellipse cx="1084.0" cy="491.3" rx="18" ry="11" transform="rotate(29.5 1084.0 491.3)" fill="none" stroke="#555" stroke-width="1.5"/>
<line x1="1099.0" y1="513.6" x2="1105.9" y2="535.9" stroke="#3a3a3a" stroke-width="0.9" />
<line x1="1026.8" y1="550.9" x2="1044.2" y2="560.7" stroke="#3a3a3a" stroke-width="1" />
<path d="M1044.2,560.7 A20.0,20.0 0 0 0 1036.6,533.5" fill="none" stroke="#3a3a3a" stroke-width="0.9"/>
<polyline points="1121.4,512.5 1108.6,535.1" fill="none" stroke="#141414" stroke-width="3.5" stroke-linecap="butt" stroke-linejoin="miter"/>
<line x1="1130.8" y1="496.0" x2="1121.4" y2="512.5" stroke="#3a3a3a" stroke-width="0.9" />
<polyline points="1105.4,536.8 1142.8,557.9" fill="none" stroke="#141414" stroke-width="3" stroke-linecap="butt" stroke-linejoin="miter"/>
<line x1="1130.8" y1="496.0" x2="1141.1" y2="557.0" stroke="#3a3a3a" stroke-width="0.8" />
<line x1="1107.2" y1="537.8" x2="1164.7" y2="515.2" stroke="#3a3a3a" stroke-width="0.8" />
<polygon points="1100.8,538.8 1111.7,544.9 1089.6,584.1 1078.7,577.9" fill="none" stroke="#3a3a3a" stroke-width="0.9" />
<ellipse cx="1099.1" cy="555.0" rx="3.5" ry="4.5" transform="rotate(29.5 1099.1 555.0)" fill="none" stroke="#3a3a3a" stroke-width="0.9"/>
<polygon points="1114.9,544.4 1141.0,559.2 1114.9,605.3 1088.8,590.5" fill="#d4d4d4" stroke="none" stroke-width="0" />
<polyline points="1114.5,543.1 1087.4,590.9" fill="none" stroke="#141414" stroke-width="3.5" stroke-linecap="butt" stroke-linejoin="miter"/>
<polyline points="1072.4,583.0 1115.0,607.1" fill="none" stroke="#141414" stroke-width="3.5" stroke-linecap="butt" stroke-linejoin="miter"/>
<polygon points="1116.8,551.2 1134.2,561.1 1124.3,578.5 1106.9,568.6" fill="none" stroke="#555" stroke-width="0.9" />
<circle cx="1120.5" cy="564.9" r="7.5" fill="#ccc" stroke="#555" stroke-width="0.9"/>
<polygon points="1105.3,573.5 1121.0,582.3 1112.1,598.0 1096.5,589.2" fill="#ccc" stroke="#555" stroke-width="0.9" />
<line x1="1140.4" y1="562.3" x2="1157.8" y2="572.1" stroke="#3a3a3a" stroke-width="1" />
<path d="M1157.8,572.1 A20.0,20.0 0 0 1 1130.5,579.7" fill="none" stroke="#3a3a3a" stroke-width="0.9"/>
<line x1="1116.7" y1="604.1" x2="1134.2" y2="613.9" stroke="#3a3a3a" stroke-width="1" />
<path d="M1134.2,613.9 A20.0,20.0 0 0 0 1126.6,586.7" fill="none" stroke="#3a3a3a" stroke-width="0.9"/>
<polygon points="622.1,455.3 636.6,459.0 637.6,455.0 623.1,451.2" fill="#98938e" stroke="#6a6560" stroke-width="0.6" />
<line x1="622.9" y1="452.0" x2="637.4" y2="455.8" stroke="#cfcac5" stroke-width="0.7" />
<line x1="622.3" y1="454.5" x2="636.8" y2="458.2" stroke="#cfcac5" stroke-width="0.7" />
<polygon points="640.4,460.0 655.0,463.8 656.0,459.7 641.5,456.0" fill="#98938e" stroke="#6a6560" stroke-width="0.6" />
<line x1="641.3" y1="456.8" x2="655.8" y2="460.6" stroke="#cfcac5" stroke-width="0.7" />
<line x1="640.7" y1="459.2" x2="655.2" y2="463.0" stroke="#cfcac5" stroke-width="0.7" />
<polygon points="718.9,480.3 733.4,484.1 734.4,480.0 719.9,476.3" fill="#98938e" stroke="#6a6560" stroke-width="0.6" />
<line x1="719.7" y1="477.1" x2="734.2" y2="480.8" stroke="#cfcac5" stroke-width="0.7" />
<line x1="719.1" y1="479.5" x2="733.6" y2="483.3" stroke="#cfcac5" stroke-width="0.7" />
<polygon points="735.3,484.6 748.9,488.1 749.9,484.0 736.4,480.5" fill="#98938e" stroke="#6a6560" stroke-width="0.6" />
<line x1="736.2" y1="481.3" x2="749.7" y2="484.8" stroke="#cfcac5" stroke-width="0.7" />
<line x1="735.5" y1="483.8" x2="749.1" y2="487.3" stroke="#cfcac5" stroke-width="0.7" />
<polygon points="660.7,477.7 669.4,479.9 670.4,475.9 661.7,473.6" fill="#98938e" stroke="#6a6560" stroke-width="0.6" />
<line x1="661.5" y1="474.4" x2="670.2" y2="476.7" stroke="#cfcac5" stroke-width="0.7" />
<line x1="660.9" y1="476.9" x2="669.6" y2="479.1" stroke="#cfcac5" stroke-width="0.7" />
<polygon points="696.5,486.9 707.1,489.7 708.2,485.6 697.6,482.9" fill="#98938e" stroke="#6a6560" stroke-width="0.6" />
<line x1="697.3" y1="483.7" x2="708.0" y2="486.4" stroke="#cfcac5" stroke-width="0.7" />
<line x1="696.7" y1="486.1" x2="707.4" y2="488.9" stroke="#cfcac5" stroke-width="0.7" />
<line x1="671.9" y1="478.4" x2="678.6" y2="452.3" stroke="#3a3a3a" stroke-width="1" />
<path d="M678.6,452.3 A27.0,27.0 0 0 1 698.0,485.2" fill="none" stroke="#3a3a3a" stroke-width="0.9"/>
<polygon points="589.8,508.3 605.2,512.3 607.5,503.6 600.7,501.8 602.5,495.1 593.8,492.8" fill="#f2f2f2" stroke="#333" stroke-width="0.9" />
<rect x="592.7" y="502.6" width="5.0" height="5.0" transform="rotate(14.5 595.2 505.1)" fill="#111" stroke="#f4f4f4" stroke-width="0.9"/>
<rect x="599.5" y="504.3" width="5.0" height="5.0" transform="rotate(14.5 602.0 506.8)" fill="#111" stroke="#f4f4f4" stroke-width="0.9"/>
<rect x="594.5" y="495.8" width="5.0" height="5.0" transform="rotate(14.5 597.0 498.3)" fill="#111" stroke="#f4f4f4" stroke-width="0.9"/>
<polygon points="756.3,551.4 740.8,547.4 743.0,538.6 749.8,540.4 751.6,533.6 760.3,535.9" fill="#f2f2f2" stroke="#333" stroke-width="0.9" />
<rect x="750.5" y="543.4" width="5.0" height="5.0" transform="rotate(14.5 753.0 545.9)" fill="#111" stroke="#f4f4f4" stroke-width="0.9"/>
<rect x="743.8" y="541.6" width="5.0" height="5.0" transform="rotate(14.5 746.3 544.1)" fill="#111" stroke="#f4f4f4" stroke-width="0.9"/>
<rect x="752.3" y="536.6" width="5.0" height="5.0" transform="rotate(14.5 754.8 539.1)" fill="#111" stroke="#f4f4f4" stroke-width="0.9"/>
<polygon points="628.2,538.1 637.5,540.5 635.1,549.8 625.8,547.4" fill="#f2f2f2" stroke="#333" stroke-width="0.9" />
<rect x="629.1" y="541.3" width="5.2" height="5.2" transform="rotate(14.5 631.7 543.9)" fill="#111" stroke="#f4f4f4" stroke-width="0.9"/>
<polygon points="614.2,592.3 623.5,594.7 621.1,604.0 611.8,601.6" fill="#f2f2f2" stroke="#333" stroke-width="0.9" />
<rect x="615.0" y="595.5" width="5.2" height="5.2" transform="rotate(14.5 617.6 598.1)" fill="#111" stroke="#f4f4f4" stroke-width="0.9"/>
<polygon points="697.0,555.8 706.3,558.3 703.9,567.5 694.6,565.1" fill="#f2f2f2" stroke="#333" stroke-width="0.9" />
<rect x="697.8" y="559.1" width="5.2" height="5.2" transform="rotate(14.5 700.4 561.7)" fill="#111" stroke="#f4f4f4" stroke-width="0.9"/>
<polygon points="682.9,610.1 692.2,612.5 689.8,621.8 680.5,619.4" fill="#f2f2f2" stroke="#333" stroke-width="0.9" />
<rect x="683.8" y="613.3" width="5.2" height="5.2" transform="rotate(14.5 686.4 615.9)" fill="#111" stroke="#f4f4f4" stroke-width="0.9"/>
<line x1="579.2" y1="613.0" x2="713.8" y2="647.8" stroke="#3a3a3a" stroke-width="1.0" stroke-dasharray="2.6,1.8"/>
<polygon points="578.5,611.8 594.0,615.8 591.7,624.5 584.9,622.7 583.2,629.5 574.5,627.3" fill="#f2f2f2" stroke="#333" stroke-width="0.9" />
<rect x="579.2" y="614.8" width="5.0" height="5.0" transform="rotate(14.5 581.7 617.3)" fill="#111" stroke="#f4f4f4" stroke-width="0.9"/>
<rect x="586.0" y="616.5" width="5.0" height="5.0" transform="rotate(14.5 588.5 619.0)" fill="#111" stroke="#f4f4f4" stroke-width="0.9"/>
<rect x="577.5" y="621.5" width="5.0" height="5.0" transform="rotate(14.5 580.0 624.0)" fill="#111" stroke="#f4f4f4" stroke-width="0.9"/>
<polygon points="715.0,647.1 699.5,643.1 697.3,651.8 704.0,653.5 702.3,660.3 711.0,662.6" fill="#f2f2f2" stroke="#333" stroke-width="0.9" />
<rect x="707.0" y="647.8" width="5.0" height="5.0" transform="rotate(14.5 709.5 650.3)" fill="#111" stroke="#f4f4f4" stroke-width="0.9"/>
<rect x="700.2" y="646.0" width="5.0" height="5.0" transform="rotate(14.5 702.7 648.5)" fill="#111" stroke="#f4f4f4" stroke-width="0.9"/>
<rect x="705.3" y="654.6" width="5.0" height="5.0" transform="rotate(14.5 707.8 657.1)" fill="#111" stroke="#f4f4f4" stroke-width="0.9"/>
<polygon points="536.4,774.4 551.9,778.4 554.2,769.7 547.4,768.0 549.1,761.2 540.4,758.9" fill="#f2f2f2" stroke="#333" stroke-width="0.9" />
<rect x="539.4" y="768.7" width="5.0" height="5.0" transform="rotate(14.5 541.9 771.2)" fill="#111" stroke="#f4f4f4" stroke-width="0.9"/>
<rect x="546.2" y="770.4" width="5.0" height="5.0" transform="rotate(14.5 548.7 772.9)" fill="#111" stroke="#f4f4f4" stroke-width="0.9"/>
<rect x="541.2" y="761.9" width="5.0" height="5.0" transform="rotate(14.5 543.7 764.4)" fill="#111" stroke="#f4f4f4" stroke-width="0.9"/>
<polygon points="672.9,809.7 657.4,805.7 659.7,797.0 666.5,798.8 668.2,792.0 676.9,794.2" fill="#f2f2f2" stroke="#333" stroke-width="0.9" />
<rect x="667.2" y="801.7" width="5.0" height="5.0" transform="rotate(14.5 669.7 804.2)" fill="#111" stroke="#f4f4f4" stroke-width="0.9"/>
<rect x="660.4" y="800.0" width="5.0" height="5.0" transform="rotate(14.5 662.9 802.5)" fill="#111" stroke="#f4f4f4" stroke-width="0.9"/>
<rect x="669.0" y="795.0" width="5.0" height="5.0" transform="rotate(14.5 671.5 797.5)" fill="#111" stroke="#f4f4f4" stroke-width="0.9"/>
<polygon points="676.3,171.8 691.8,175.7 689.6,184.4 682.8,182.7 681.1,189.5 672.4,187.3" fill="#f2f2f2" stroke="#333" stroke-width="0.9" />
<rect x="677.0" y="174.7" width="5.0" height="5.0" transform="rotate(14.0 679.5 177.2)" fill="#111" stroke="#f4f4f4" stroke-width="0.9"/>
<rect x="683.8" y="176.4" width="5.0" height="5.0" transform="rotate(14.0 686.3 178.9)" fill="#111" stroke="#f4f4f4" stroke-width="0.9"/>
<rect x="675.4" y="181.5" width="5.0" height="5.0" transform="rotate(14.0 677.9 184.0)" fill="#111" stroke="#f4f4f4" stroke-width="0.9"/>
<polygon points="842.2,213.2 826.7,209.3 824.5,218.0 831.3,219.7 829.6,226.5 838.3,228.7" fill="#f2f2f2" stroke="#333" stroke-width="0.9" />
<rect x="834.2" y="213.9" width="5.0" height="5.0" transform="rotate(14.0 836.7 216.4)" fill="#111" stroke="#f4f4f4" stroke-width="0.9"/>
<rect x="827.4" y="212.2" width="5.0" height="5.0" transform="rotate(14.0 829.9 214.7)" fill="#111" stroke="#f4f4f4" stroke-width="0.9"/>
<rect x="832.5" y="220.7" width="5.0" height="5.0" transform="rotate(14.0 835.0 223.2)" fill="#111" stroke="#f4f4f4" stroke-width="0.9"/>
<rect x="453.9" y="121.4" width="4.2" height="4.2" fill="#111" stroke="none" stroke-width="0"/>
<rect x="459.9" y="121.4" width="4.2" height="4.2" fill="#111" stroke="none" stroke-width="0"/>
<rect x="459.9" y="127.4" width="4.2" height="4.2" fill="#111" stroke="none" stroke-width="0"/>
<polygon points="434.0,272.8 449.0,272.8 449.0,268.4 434.0,268.4" fill="#98938e" stroke="#6a6560" stroke-width="0.6" />
<line x1="434.0" y1="269.3" x2="449.0" y2="269.3" stroke="#cfcac5" stroke-width="0.7" />
<line x1="434.0" y1="271.9" x2="449.0" y2="271.9" stroke="#cfcac5" stroke-width="0.7" />
<polygon points="452.0,272.8 467.0,272.8 467.0,268.4 452.0,268.4" fill="#98938e" stroke="#6a6560" stroke-width="0.6" />
<line x1="452.0" y1="269.3" x2="467.0" y2="269.3" stroke="#cfcac5" stroke-width="0.7" />
<line x1="452.0" y1="271.9" x2="467.0" y2="271.9" stroke="#cfcac5" stroke-width="0.7" />
<polygon points="505.0,272.8 528.0,272.8 528.0,268.4 505.0,268.4" fill="#98938e" stroke="#6a6560" stroke-width="0.6" />
<line x1="505.0" y1="269.3" x2="528.0" y2="269.3" stroke="#cfcac5" stroke-width="0.7" />
<line x1="505.0" y1="271.9" x2="528.0" y2="271.9" stroke="#cfcac5" stroke-width="0.7" />
<polygon points="664.5,272.8 675.7,272.8 675.7,268.4 664.5,268.4" fill="#98938e" stroke="#6a6560" stroke-width="0.6" />
<line x1="664.5" y1="269.3" x2="675.7" y2="269.3" stroke="#cfcac5" stroke-width="0.7" />
<line x1="664.5" y1="271.9" x2="675.7" y2="271.9" stroke="#cfcac5" stroke-width="0.7" />
<polygon points="677.6,272.8 688.9,272.8 688.9,268.4 677.6,268.4" fill="#98938e" stroke="#6a6560" stroke-width="0.6" />
<line x1="677.6" y1="269.3" x2="688.9" y2="269.3" stroke="#cfcac5" stroke-width="0.7" />
<line x1="677.6" y1="271.9" x2="688.9" y2="271.9" stroke="#cfcac5" stroke-width="0.7" />
<polygon points="710.4,272.8 735.8,272.8 735.8,268.4 710.4,268.4" fill="#98938e" stroke="#6a6560" stroke-width="0.6" />
<line x1="710.4" y1="269.3" x2="735.8" y2="269.3" stroke="#cfcac5" stroke-width="0.7" />
<line x1="710.4" y1="271.9" x2="735.8" y2="271.9" stroke="#cfcac5" stroke-width="0.7" />
<polygon points="560.0,231.2 597.0,231.2 597.0,226.8 560.0,226.8" fill="#98938e" stroke="#6a6560" stroke-width="0.6" />
<line x1="560.0" y1="227.7" x2="597.0" y2="227.7" stroke="#cfcac5" stroke-width="0.7" />
<line x1="560.0" y1="230.3" x2="597.0" y2="230.3" stroke="#cfcac5" stroke-width="0.7" />
<polygon points="533.8,249.0 533.8,268.0 538.2,268.0 538.2,249.0" fill="#98938e" stroke="#6a6560" stroke-width="0.6" />
<line x1="537.3" y1="249.0" x2="537.3" y2="268.0" stroke="#cfcac5" stroke-width="0.7" />
<line x1="534.7" y1="249.0" x2="534.7" y2="268.0" stroke="#cfcac5" stroke-width="0.7" />
<polygon points="616.8,249.0 616.8,268.0 621.2,268.0 621.2,249.0" fill="#98938e" stroke="#6a6560" stroke-width="0.6" />
<line x1="620.3" y1="249.0" x2="620.3" y2="268.0" stroke="#cfcac5" stroke-width="0.7" />
<line x1="617.7" y1="249.0" x2="617.7" y2="268.0" stroke="#cfcac5" stroke-width="0.7" />
<polygon points="540.4,242.7 552.4,232.2 549.6,228.8 537.6,239.3" fill="#98938e" stroke="#6a6560" stroke-width="0.6" />
<line x1="538.1" y1="240.0" x2="550.1" y2="229.5" stroke="#cfcac5" stroke-width="0.7" />
<line x1="539.9" y1="242.0" x2="551.9" y2="231.5" stroke="#cfcac5" stroke-width="0.7" />
<polygon points="603.6,232.2 615.6,242.7 618.4,239.3 606.4,228.8" fill="#98938e" stroke="#6a6560" stroke-width="0.6" />
<line x1="605.9" y1="229.5" x2="617.9" y2="240.0" stroke="#cfcac5" stroke-width="0.7" />
<line x1="604.1" y1="231.5" x2="616.1" y2="242.0" stroke="#cfcac5" stroke-width="0.7" />
<polygon points="457.5,541.2 480.0,541.2 480.0,536.8 457.5,536.8" fill="#98938e" stroke="#6a6560" stroke-width="0.6" />
<line x1="457.5" y1="537.7" x2="480.0" y2="537.7" stroke="#cfcac5" stroke-width="0.7" />
<line x1="457.5" y1="540.3" x2="480.0" y2="540.3" stroke="#cfcac5" stroke-width="0.7" />
<polygon points="482.0,541.2 504.0,541.2 504.0,536.8 482.0,536.8" fill="#98938e" stroke="#6a6560" stroke-width="0.6" />
<line x1="482.0" y1="537.7" x2="504.0" y2="537.7" stroke="#cfcac5" stroke-width="0.7" />
<line x1="482.0" y1="540.3" x2="504.0" y2="540.3" stroke="#cfcac5" stroke-width="0.7" />
<polygon points="531.3,505.8 531.3,530.1 535.7,530.1 535.7,505.8" fill="#98938e" stroke="#6a6560" stroke-width="0.6" />
<line x1="534.8" y1="505.8" x2="534.8" y2="530.1" stroke="#cfcac5" stroke-width="0.7" />
<line x1="532.2" y1="505.8" x2="532.2" y2="530.1" stroke="#cfcac5" stroke-width="0.7" />
<rect x="425.8" y="190.0" width="4.6" height="45.0" fill="#f1dfd3" stroke="none" stroke-width="0"/>
<line x1="427.0" y1="190.0" x2="427.0" y2="214.0" stroke="#555" stroke-width="1" />
<line x1="429.3" y1="210.0" x2="429.3" y2="235.0" stroke="#555" stroke-width="1" />
<text x="613.9" y="68.4" font-size="20.0" font-weight="bold" text-anchor="start" textLength="67.0" lengthAdjust="spacingAndGlyphs" >139'11"</text>
<text x="205.4" y="153.7" font-size="19.5" font-weight="bold" text-anchor="start" textLength="93.4" lengthAdjust="spacingAndGlyphs" >Bedroom</text>
<text x="210.0" y="177.0" font-size="19.5" font-weight="normal" text-anchor="start" textLength="84.8" lengthAdjust="spacingAndGlyphs" >13'8" x 11'</text>
<text x="329.3" y="160.4" font-size="19.5" font-weight="normal" text-anchor="start" textLength="72.1" lengthAdjust="spacingAndGlyphs" >Vaulted</text>
<text x="332.0" y="183.0" font-size="19.5" font-weight="bold" text-anchor="start" textLength="67.4" lengthAdjust="spacingAndGlyphs" >Family</text>
<text x="330.3" y="205.5" font-size="19.5" font-weight="normal" text-anchor="start" textLength="70.1" lengthAdjust="spacingAndGlyphs" >16' x 15'</text>
<text x="471.8" y="210.6" font-size="19.5" font-weight="bold" text-anchor="start" textLength="52.5" lengthAdjust="spacingAndGlyphs" >Patio</text>
<text x="205.0" y="276.0" font-size="19.5" font-weight="bold" text-anchor="start" textLength="93.0" lengthAdjust="spacingAndGlyphs" >Bedroom</text>
<text x="222.5" y="300.0" font-size="19.5" font-weight="normal" text-anchor="start" textLength="58.5" lengthAdjust="spacingAndGlyphs" >13'8" x</text>
<text x="232.0" y="322.8" font-size="19.5" font-weight="normal" text-anchor="start" textLength="39.6" lengthAdjust="spacingAndGlyphs" >11'8"</text>
<text x="120.0" y="329.4" font-size="20.0" font-weight="bold" text-anchor="start" textLength="71.0" lengthAdjust="spacingAndGlyphs" >Kennel</text>
<text x="375.2" y="354.6" font-size="11.5" font-weight="normal" text-anchor="start" textLength="28.2" lengthAdjust="spacingAndGlyphs" >Dn to</text>
<text x="375.2" y="365.9" font-size="11.5" font-weight="normal" text-anchor="start" textLength="27.0" lengthAdjust="spacingAndGlyphs" >Bsmt</text>
<text x="450.7" y="338.8" font-size="13.5" font-weight="bold" text-anchor="start" textLength="24.3" lengthAdjust="spacingAndGlyphs" >Util.</text>
<text x="450.7" y="354.6" font-size="13.5" font-weight="normal" text-anchor="start" textLength="24.3" lengthAdjust="spacingAndGlyphs" >8'6"</text>
<text x="450.7" y="370.3" font-size="13.5" font-weight="normal" text-anchor="start" textLength="23.3" lengthAdjust="spacingAndGlyphs" >x 11'</text>
<text x="560.0" y="256.9" font-size="13.5" font-weight="bold" text-anchor="start" textLength="36.0" lengthAdjust="spacingAndGlyphs" >Nook</text>
<text x="544.0" y="272.8" font-size="13.5" font-weight="normal" text-anchor="start" textLength="68.8" lengthAdjust="spacingAndGlyphs" >10'6" x 9'8"</text>
<text x="256.5" y="449.0" font-size="19.5" font-weight="bold" text-anchor="start" textLength="74.5" lengthAdjust="spacingAndGlyphs" >Garage</text>
<text x="244.4" y="472.0" font-size="19.5" font-weight="normal" text-anchor="start" textLength="97.6" lengthAdjust="spacingAndGlyphs" >35' x 30'6"</text>
<text x="184.0" y="496.0" font-size="19.5" font-weight="normal" text-anchor="start" textLength="219.4" lengthAdjust="spacingAndGlyphs" >(23'6" deep at 3rd bay)</text>
<text x="165.0" y="561.0" font-size="13.5" font-weight="normal" text-anchor="start" textLength="73.7" lengthAdjust="spacingAndGlyphs" >&#169; 2025 ADI</text>
<text x="444.3" y="447.0" font-size="19.0" font-weight="bold" text-anchor="start" textLength="59.9" lengthAdjust="spacingAndGlyphs" >Office</text>
<text x="445.4" y="470.3" font-size="19.0" font-weight="normal" text-anchor="start" textLength="58.8" lengthAdjust="spacingAndGlyphs" >13'6" x</text>
<text x="463.6" y="492.6" font-size="19.0" font-weight="normal" text-anchor="start" textLength="23.4" lengthAdjust="spacingAndGlyphs" >17'</text>
<text x="540.0" y="464.0" font-size="12.0" font-weight="normal" text-anchor="start" textLength="34.0" lengthAdjust="spacingAndGlyphs" >pantry</text>
<text transform="translate(97,469.5) rotate(-90)" x="0" y="0" font-size="21" font-weight="bold" textLength="46" lengthAdjust="spacingAndGlyphs">91'7"</text>
<text transform="translate(565,387.9) rotate(-90)" x="0" y="0" font-size="15.5" font-weight="bold" textLength="52.6" lengthAdjust="spacingAndGlyphs">Kitchen</text>
<text transform="translate(581,397.3) rotate(-90)" x="0" y="0" font-size="13.5" textLength="73.3" lengthAdjust="spacingAndGlyphs">10'4" x 15'4"</text>
<text transform="translate(636.3,424.5) rotate(-90)" x="0" y="0" font-size="11.5" textLength="126.7" lengthAdjust="spacingAndGlyphs">raised conversation bar</text>
<text transform="translate(434,302.2) rotate(-90)" x="0" y="0" font-size="10.5" textLength="27" lengthAdjust="spacingAndGlyphs">9' clg</text>
<text transform="translate(770.0,158.0) rotate(14.0)" x="0" y="7.6" font-size="21.0" font-weight="bold" text-anchor="middle">Patio</text>
<text transform="translate(756.8,207.8) rotate(14.0)" x="0" y="7.6" font-size="21.0" font-weight="normal" text-anchor="middle">Vaulted</text>
<text transform="translate(749.7,230.2) rotate(14.0)" x="0" y="7.6" font-size="21.0" font-weight="bold" text-anchor="middle">Covered Patio</text>
<text transform="translate(743.6,247.4) rotate(14.0)" x="0" y="7.6" font-size="21.0" font-weight="normal" text-anchor="middle">22' x 13'3"</text>
<text transform="translate(728.0,359.4) rotate(15.0)" x="0" y="7.6" font-size="21.0" font-weight="normal" text-anchor="middle">Vaulted</text>
<text transform="translate(720.6,380.0) rotate(15.0)" x="0" y="7.6" font-size="21.0" font-weight="bold" text-anchor="middle">Great Room</text>
<text transform="translate(715.0,400.6) rotate(15.0)" x="0" y="7.6" font-size="21.0" font-weight="normal" text-anchor="middle">35'1" x 26'7"</text>
<text transform="translate(906.7,402.5) rotate(29.5)" x="0" y="7.6" font-size="21.0" font-weight="normal" text-anchor="middle">Vaulted</text>
<text transform="translate(892.5,421.9) rotate(29.5)" x="0" y="7.6" font-size="21.0" font-weight="bold" text-anchor="middle">Den</text>
<text transform="translate(883.5,441.2) rotate(29.5)" x="0" y="7.6" font-size="21.0" font-weight="normal" text-anchor="middle">14' x 18'4"</text>
<text transform="translate(1005.0,464.2) rotate(29.5)" x="0" y="7.6" font-size="21.0" font-weight="bold" text-anchor="middle">Owners&#8217;</text>
<text transform="translate(991.9,482.8) rotate(29.5)" x="0" y="7.6" font-size="21.0" font-weight="bold" text-anchor="middle">Suite</text>
<text transform="translate(982.0,503.6) rotate(29.5)" x="0" y="7.6" font-size="21.0" font-weight="normal" text-anchor="middle">16' x 15'8"</text>
<text transform="translate(680.5,495.5) rotate(14.5)" x="0" y="7.6" font-size="21.0" font-weight="bold" text-anchor="middle">Covered Porch</text>
<text transform="translate(675.4,517.8) rotate(14.5)" x="0" y="7.6" font-size="21.0" font-weight="normal" text-anchor="middle">22' x 8'</text>
<text transform="translate(633.3,676.2) rotate(14.5)" x="0" y="7.6" font-size="21.0" font-weight="normal" text-anchor="middle">Vaulted</text>
<text transform="translate(626.7,699.2) rotate(14.5)" x="0" y="7.6" font-size="21.0" font-weight="bold" text-anchor="middle">Porte</text>
<text transform="translate(620.1,722.2) rotate(14.5)" x="0" y="7.6" font-size="21.0" font-weight="bold" text-anchor="middle">Cochere</text>
<text transform="translate(616.8,743.5) rotate(14.5)" x="0" y="7.6" font-size="21.0" font-weight="normal" text-anchor="middle">18' x 22'</text>
<text transform="translate(890.6,569.2) rotate(29.5)" x="0" y="4" font-size="13" text-anchor="middle">seat</text>
<text transform="translate(971.8,565.7) rotate(29.5)" x="0" y="4" font-size="12.5" text-anchor="middle">walk-in</text>
<text transform="translate(965.3,579.3) rotate(29.5)" x="0" y="4" font-size="12.5" text-anchor="middle">closet</text>
<text x="762.2" y="684.5" font-size="20.5" textLength="220.4" lengthAdjust="spacingAndGlyphs">Alternate Basement Stair Layout</text>
<line x1="751.6" y1="692.6" x2="992.1" y2="692.6" stroke="#222" stroke-width="1.3" />
<text x="752.7" y="716.2" font-size="20.5" textLength="74.9" lengthAdjust="spacingAndGlyphs">Living Area</text>
<text x="919.3" y="716.2" font-size="20.5" textLength="74.9" lengthAdjust="spacingAndGlyphs">3654 sq.ft.</text>
<text x="752.7" y="746.8" font-size="20.5" textLength="47.3" lengthAdjust="spacingAndGlyphs">Garage</text>
<text x="928.8" y="746.8" font-size="20.5" textLength="65.4" lengthAdjust="spacingAndGlyphs">997 sq.ft.</text>
</svg></body></html>
